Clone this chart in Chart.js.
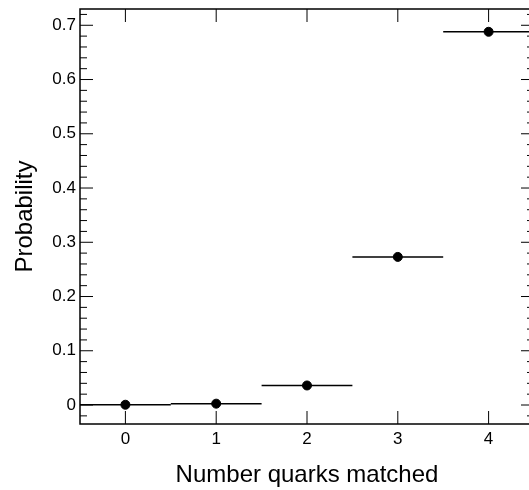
<!DOCTYPE html>
<html>
<head>
<meta charset="utf-8">
<script src="https://cdn.jsdelivr.net/npm/chart.js@4.4.1/dist/chart.umd.min.js"></script>
<style>
  html, body { margin:0; padding:0; background:#fff; overflow:hidden; }
  #wrap { width:529px; height:490px; overflow:hidden; }
</style>
</head>
<body>
<div id="wrap"><canvas id="chart" width="545" height="490"></canvas></div>
<script>
// ------------------- Data -------------------
const nMatched = [0, 1, 2, 3, 4];
const probability = [0.0005, 0.0025, 0.036, 0.273, 0.688];
const binLow = [-0.5, 0.5, 1.5, 2.5, 3.5];
const binHigh = [0.5, 1.5, 2.5, 3.5, 4.5];
const xTickValues = [0, 1, 2, 3, 4];
const yTickValues = [0, 0.1, 0.2, 0.3, 0.4, 0.5, 0.6, 0.7];

Chart.defaults.font.family = "'Liberation Sans', Arial, sans-serif";
Chart.defaults.color = "#000";

function line(ctx, x1, y1, x2, y2){
  ctx.beginPath();
  ctx.moveTo(x1, y1);
  ctx.lineTo(x2, y2);
  ctx.stroke();
}

// ------------------- ROOT-like frame, inner ticks, x error bars -------------------
const rootStyle = {
  id: "rootStyle",
  beforeDatasetsDraw(chart){
    const ctx = chart.ctx;
    const x = chart.scales.x, y = chart.scales.y;
    ctx.save();
    ctx.strokeStyle = "#000";
    ctx.lineWidth = 1.5;
    probability.forEach((p, i)=>{
      const py = y.getPixelForValue(p);
      line(ctx, x.getPixelForValue(binLow[i]), py, x.getPixelForValue(binHigh[i]), py);
    });
    ctx.restore();
  },
  afterDatasetsDraw(chart){
    const ctx = chart.ctx;
    const {left, right, top, bottom} = chart.chartArea;
    const x = chart.scales.x, y = chart.scales.y;
    ctx.save();
    ctx.strokeStyle = "#000";
    ctx.lineWidth = 1;
    xTickValues.forEach(v=>{
      const px = x.getPixelForValue(v);
      line(ctx, px, bottom, px, bottom - 13);
      line(ctx, px, top, px, top + 13);
    });
    for(let i = Math.ceil(y.min / 0.02 - 1e-6); i * 0.02 <= y.max + 1e-9; i++){
      const py = y.getPixelForValue(i * 0.02);
      const len = i % 5 === 0 ? 13 : 7;
      line(ctx, left, py, left + len, py);
      line(ctx, right, py, right - len, py);
    }
    ctx.lineWidth = 1.5;
    ctx.strokeRect(left, top, right - left, bottom - top);
    ctx.restore();
  }
};

new Chart(document.getElementById("chart"), {
  type: "scatter",
  data: {
    datasets: [{
      data: nMatched.map((n, i)=>({ x: n, y: probability[i] })),
      backgroundColor: "#000",
      borderColor: "#000",
      pointRadius: 4.5,
      pointHoverRadius: 4.5,
      showLine: false
    }]
  },
  options: {
    responsive: false,
    animation: false,
    layout: { padding: { top: 9, right: 11, left: 0, bottom: 0 } },
    plugins: { legend: { display: false }, tooltip: { enabled: false } },
    scales: {
      x: {
        type: "linear",
        min: -0.5, max: 4.5,
        afterBuildTicks: s => { s.ticks = xTickValues.map(v=>({ value: v })); },
        afterFit: s => { s.height = 66; s.paddingLeft = 0; s.paddingRight = 0; },
        grid: { display: false, drawTicks: false },
        border: { display: false },
        ticks: { padding: 5, font: { size: 17 }, color: "#000", callback: v => String(v) },
        title: { display: true, text: "Number quarks matched", font: { size: 24 }, color: "#000", padding: { top: 0, bottom: 0 } }
      },
      y: {
        type: "linear",
        min: -0.035, max: 0.73,
        afterBuildTicks: s => { s.ticks = yTickValues.map(v=>({ value: v })); },
        afterFit: s => { s.width = 80; s.paddingTop = 0; s.paddingBottom = 0; },
        grid: { display: false, drawTicks: false },
        border: { display: false },
        ticks: { padding: 4, font: { size: 17 }, color: "#000", callback: v => String(Math.round(v * 10) / 10) },
        title: { display: true, text: "Probability", font: { size: 24 }, color: "#000", padding: { top: 11, bottom: 0 } }
      }
    }
  },
  plugins: [rootStyle]
});
</script>
</body>
</html>
